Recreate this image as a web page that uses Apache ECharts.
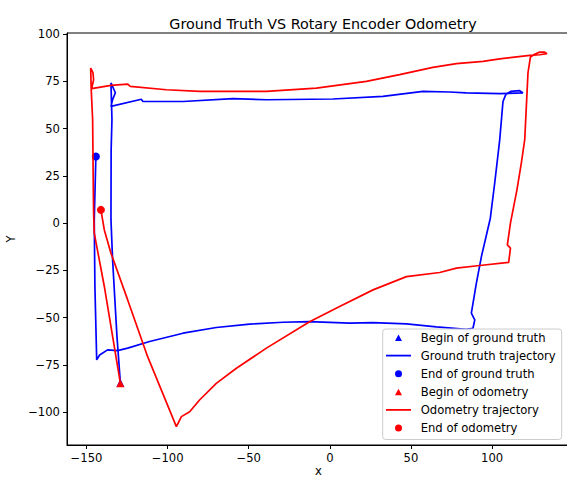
<!DOCTYPE html>
<html>
<head>
<meta charset="utf-8">
<script src="https://cdn.jsdelivr.net/npm/echarts@6/dist/echarts.min.js"></script>
<style>
html,body{margin:0;padding:0;background:#fff;overflow:hidden;}
#chart{width:567px;height:479px;}
</style>
</head>
<body>
<div id="chart"></div>
<script>
// Ground truth trajectory (x, y)
var gtX = [-129.1, -131.2, -133.9, -134.9, -134.8, -134.3, -134.9, -132.2, -133.9, -134.9, -116.2, -115.2, -90.5, -59.7, -39.1, 1.9, 32.7, 57.4, 73.8, 84.1, 104.7, 119.0, 117.0, 111.4, 108.4, 106.7, 104.7, 101.6, 98.9, 93.4, 90.3, 87.2, 89.3, 88.2, 84.1, 65.6, 47.2, 26.6, 12.2, -12.5, -28.9, -49.4, -70.0, -90.5, -111.1, -124.6, -130.8, -137.0, -141.9, -143.7, -144.8, -145.2, -144.2];
var gtY = [-84.5, -60.0, -19.4, 1.7, 38.7, 54.7, 74.1, 68.9, 65.2, 61.7, 65.5, 64.3, 64.3, 65.8, 65.2, 65.6, 67.0, 69.6, 69.3, 68.8, 68.4, 68.8, 70.0, 69.6, 67.9, 64.3, 44.1, 21.2, 2.6, -17.7, -31.7, -47.6, -51.2, -55.6, -56.2, -54.9, -53.3, -52.6, -52.9, -52.1, -52.4, -53.4, -55.2, -58.2, -62.6, -66.1, -67.4, -67.0, -69.7, -72.3, -33.5, 1.7, 35.2];
// Odometry trajectory (x, y)
var odoX = [-129.1, -139.0, -145.2, -145.6, -145.8, -146.2, -147.1, -147.4, -146.0, -145.6, -146.8, -134.9, -124.6, -123.0, -100.8, -80.3, -39.1, -8.3, 22.5, 43.0, 63.5, 78.0, 94.4, 104.7, 123.2, 129.3, 133.8, 132.4, 129.3, 126.2, 123.6, 122.1, 121.1, 120.1, 118.0, 115.3, 111.3, 109.4, 111.3, 110.2, 92.3, 78.0, 67.7, 47.2, 26.6, 6.0, -12.5, -39.1, -57.6, -70.0, -80.3, -86.4, -91.5, -94.6, -112.3, -124.6, -134.9, -139.0, -141.1];
var odoY = [-84.7, -33.5, -5.3, 5.3, 19.4, 54.7, 71.1, 82.0, 79.5, 75.8, 71.1, 72.8, 73.5, 72.3, 70.5, 69.6, 69.6, 71.4, 74.9, 78.5, 82.3, 84.3, 85.5, 86.8, 88.7, 89.0, 89.6, 90.4, 90.4, 89.3, 87.8, 79.4, 61.7, 44.1, 31.7, 17.6, 0.0, -11.5, -13.2, -20.8, -22.4, -23.8, -26.1, -28.3, -35.3, -44.1, -52.1, -66.1, -76.7, -84.7, -93.5, -99.7, -102.3, -107.6, -70.6, -40.6, -15.9, -3.6, 7.0];

var xTicks = [-150, -100, -50, 0, 50, 100];
var yTicks = [-100, -75, -50, -25, 0, 25, 50, 75, 100];
var xRange = [-162.0, 148.0];
var yRange = [-117.3, 100.5];

var seriesNames = ['Begin of ground truth', 'Ground truth trajectory', 'End of ground truth',
                   'Begin of odometry', 'Odometry trajectory', 'End of odometry'];
var titleText = 'Ground Truth VS Rotary Encoder Odometry';

function zip(xs, ys) { return xs.map(function (x, i) { return [x, ys[i]]; }); }
var gt = zip(gtX, gtY);
var odo = zip(odoX, odoY);

var BLUE = '#0000ff', RED = '#ff0000';
var FONT = 'DejaVu Sans';
var fmt = function (v) { return String(v).replace('-', '\u2212'); };
var lineIcon = 'path://M0,0 L25,0 L25,1.8 L0,1.8 Z';
var triIcon = 'path://M0,0 M25,8 M9,7.5 L16,7.5 L12.5,1 Z';
var dotIcon = 'path://M0,0 M25,8 M16,4 A3.5,3.5 0 1 1 9,4 A3.5,3.5 0 1 1 16,4 Z';

var el = document.getElementById('chart');
var chart = echarts.init(el, null, { renderer: 'svg' });
chart.setOption({
  animation: false,
  backgroundColor: '#fff',
  title: {
    text: titleText, left: 318, top: 12, textAlign: 'center',
    textStyle: { fontFamily: FONT, fontSize: 14.3, fontWeight: 'normal', color: '#000' }
  },
  grid: { left: 67, right: -3, top: 33, bottom: 34, show: true, borderColor: '#000', borderWidth: 1, containLabel: false, outerBoundsMode: 'none' },
  xAxis: {
    type: 'value', min: xRange[0], max: xRange[1],
    name: 'x', nameLocation: 'middle', nameGap: 20, nameMoveOverlap: false,
    nameTextStyle: { fontFamily: FONT, fontSize: 11.6, lineHeight: 12, color: '#000' },
    splitLine: { show: false },
    axisLine: { onZero: false, lineStyle: { color: '#000', width: 1 } },
    axisTick: { length: 4, customValues: xTicks, lineStyle: { color: '#000' } },
    axisLabel: { customValues: xTicks, formatter: fmt, margin: 7, fontFamily: FONT, fontSize: 11.6, color: '#000' }
  },
  yAxis: {
    type: 'value', min: yRange[0], max: yRange[1],
    name: 'Y', nameLocation: 'middle', nameGap: 46,
    nameTextStyle: { fontFamily: FONT, fontSize: 11.6, color: '#000' },
    splitLine: { show: false },
    axisLine: { show: true, onZero: false, lineStyle: { color: '#000', width: 1 } },
    axisTick: { show: true, length: 4, customValues: yTicks, lineStyle: { color: '#000' } },
    axisLabel: { customValues: yTicks, formatter: fmt, margin: 7, fontFamily: FONT, fontSize: 11.6, color: '#000' }
  },
  legend: {
    orient: 'vertical', left: 382.7, top: 329,
    itemWidth: 25, itemHeight: 8, itemGap: 4.1,
    padding: [1.5, 6, 4.5, 3.3],
    backgroundColor: 'rgba(255,255,255,0.8)', borderColor: '#ccc', borderWidth: 1, borderRadius: 3,
    textStyle: { fontFamily: FONT, fontSize: 11.6, color: '#000', lineHeight: 14, padding: [0, 0, 0, 4.7] },
    data: [
      { name: seriesNames[0], icon: triIcon },
      { name: seriesNames[1], icon: lineIcon },
      { name: seriesNames[2], icon: dotIcon },
      { name: seriesNames[3], icon: triIcon },
      { name: seriesNames[4], icon: lineIcon },
      { name: seriesNames[5], icon: dotIcon }
    ]
  },
  series: [
    { name: seriesNames[0], type: 'scatter', symbol: 'triangle', symbolSize: 8, itemStyle: { color: BLUE, opacity: 1 }, data: [gt[0]] },
    { name: seriesNames[1], type: 'line', showSymbol: false, symbol: 'none', lineStyle: { color: BLUE, width: 1.7 }, itemStyle: { color: BLUE }, data: gt },
    { name: seriesNames[2], type: 'scatter', symbol: 'circle', symbolSize: 8, itemStyle: { color: BLUE, opacity: 1 }, data: [gt[gt.length - 1]] },
    { name: seriesNames[3], type: 'scatter', symbol: 'triangle', symbolSize: 8, itemStyle: { color: RED, opacity: 1 }, data: [odo[0]] },
    { name: seriesNames[4], type: 'line', showSymbol: false, symbol: 'none', lineStyle: { color: RED, width: 1.7 }, itemStyle: { color: RED }, data: odo },
    { name: seriesNames[5], type: 'scatter', symbol: 'circle', symbolSize: 8, itemStyle: { color: RED, opacity: 1 }, data: [odo[odo.length - 1]] }
  ]
});
</script>
</body>
</html>
